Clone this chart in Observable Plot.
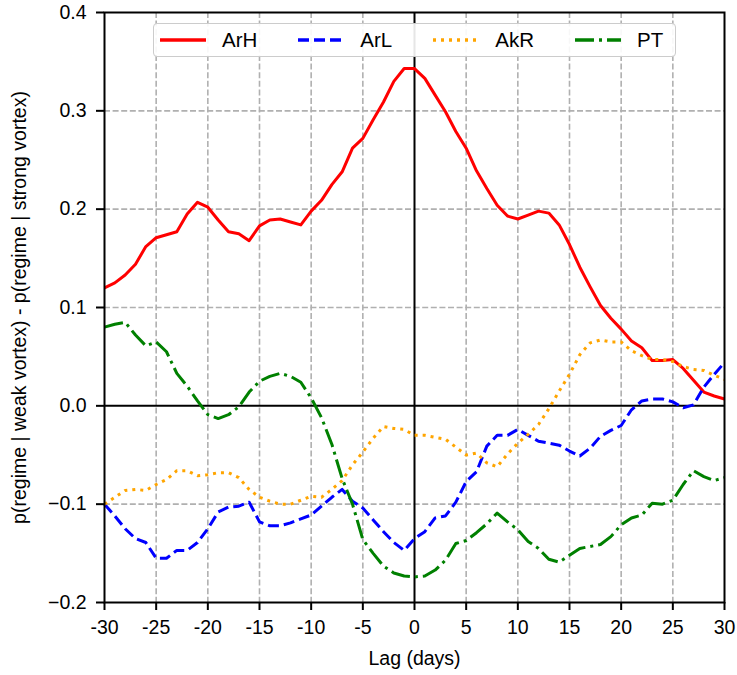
<!DOCTYPE html>
<html>
<head>
<meta charset="utf-8">
<script src="https://cdn.jsdelivr.net/npm/d3@7"></script>
<script src="https://cdn.jsdelivr.net/npm/@observablehq/plot@0.6"></script>
<style>
  html, body { margin: 0; padding: 0; background: white; }
  #wrap { position: relative; width: 737px; height: 675px; font-family: "Liberation Sans", Arial, sans-serif; }
  #legend {
    position: absolute; left: 153px; top: 23px; height: 34px;
    box-sizing: border-box;
    border: 1.3px solid #cccccc; border-radius: 4px; background: rgba(255,255,255,0.9);
    display: flex; align-items: center; padding: 0 12px 0 6px;
    font-size: 20.5px; color: black; white-space: nowrap;
  }
  #legend .item { display: flex; align-items: center; }
  #legend .item + .item { margin-left: 41px; }
  #legend svg { margin-right: 16px; }
  svg.plot g[aria-label="x-axis label"] text, svg.plot g[aria-label="y-axis label"] text { font-size: 20px; }
</style>
</head>
<body>
<div id="wrap"></div>
<script>
// ---- data ----
const lag = [-30,-29,-28,-27,-26,-25,-24,-23,-22,-21,-20,-19,-18,-17,-16,-15,-14,-13,-12,-11,-10,-9,-8,-7,-6,-5,-4,-3,-2,-1,0,
             1,2,3,4,5,6,7,8,9,10,11,12,13,14,15,16,17,18,19,20,21,22,23,24,25,26,27,28,29,30];

const ArH = [0.120,0.125,0.133,0.144,0.162,0.171,0.174,0.177,0.195,0.207,0.202,0.189,0.177,0.175,0.168,0.183,0.189,0.190,0.187,0.184,0.198,0.209,0.225,0.238,0.262,0.272,0.291,0.309,0.330,0.343,0.343,
             0.333,0.316,0.299,0.279,0.262,0.239,0.221,0.204,0.193,0.190,0.194,0.198,0.196,0.184,0.164,0.141,0.121,0.102,0.089,0.078,0.066,0.059,0.046,0.046,0.047,0.038,0.026,0.014,0.010,0.007];

const ArL = [-0.100,-0.112,-0.125,-0.135,-0.139,-0.155,-0.155,-0.147,-0.147,-0.139,-0.125,-0.108,-0.103,-0.102,-0.098,-0.118,-0.122,-0.122,-0.119,-0.115,-0.111,-0.102,-0.093,-0.085,-0.097,-0.104,-0.116,-0.128,-0.139,-0.147,-0.135,
             -0.128,-0.114,-0.112,-0.098,-0.077,-0.067,-0.041,-0.030,-0.030,-0.024,-0.030,-0.036,-0.038,-0.040,-0.046,-0.051,-0.043,-0.031,-0.025,-0.020,-0.004,0.005,0.007,0.007,0.004,-0.002,0.001,0.019,0.032,0.044];

const AkR = [-0.100,-0.093,-0.086,-0.085,-0.086,-0.080,-0.075,-0.066,-0.066,-0.071,-0.070,-0.068,-0.068,-0.073,-0.085,-0.093,-0.097,-0.100,-0.100,-0.096,-0.092,-0.093,-0.085,-0.076,-0.060,-0.047,-0.033,-0.021,-0.023,-0.024,-0.030,
             -0.030,-0.032,-0.034,-0.042,-0.050,-0.048,-0.058,-0.062,-0.049,-0.038,-0.029,-0.019,-0.003,0.015,0.032,0.052,0.064,0.067,0.065,0.065,0.056,0.051,0.047,0.047,0.045,0.040,0.037,0.036,0.031,0.027];

const PT  = [0.080,0.083,0.085,0.072,0.061,0.065,0.055,0.033,0.020,0.005,-0.009,-0.013,-0.009,-0.001,0.014,0.025,0.030,0.033,0.030,0.024,0.008,-0.012,-0.039,-0.074,-0.100,-0.136,-0.150,-0.163,-0.170,-0.173,-0.174,
             -0.173,-0.167,-0.157,-0.140,-0.137,-0.129,-0.120,-0.109,-0.118,-0.126,-0.138,-0.145,-0.156,-0.159,-0.152,-0.145,-0.143,-0.141,-0.133,-0.121,-0.114,-0.111,-0.099,-0.100,-0.096,-0.080,-0.066,-0.072,-0.076,-0.073];

const xTicks = [-30,-25,-20,-15,-10,-5,0,5,10,15,20,25,30];
const yTicks = [-0.2,-0.1,0.0,0.1,0.2,0.3,0.4];
const xGrid = [-25,-20,-15,-10,-5,5,10,15,20,25];
const yGrid = [-0.1,0.1,0.2,0.3];

const seriesNames = ["ArH","ArL","AkR","PT"];
const seriesValues = [ArH, ArL, AkR, PT];
const seriesColors = ["#ff0000","#0000ff","#ffa500","#008000"];
const seriesDash = [null, "11,5", "3,5", "19,5,3,5"];

// ---- tidy table ----
const rows = [];
seriesNames.forEach((name, i) => {
  seriesValues[i].forEach((v, j) => rows.push({series: name, lag: lag[j], value: v}));
});

const gridStyle = {stroke: "#b0b0b0", strokeOpacity: 1, strokeWidth: 1.6, strokeDasharray: "6,2.6"};

const lineMarks = seriesNames.map((name, i) =>
  Plot.lineY(rows.filter(d => d.series === name), {
    x: "lag", y: "value",
    stroke: seriesColors[i], strokeWidth: 3,
    strokeDasharray: seriesDash[i] || undefined,
    strokeLinecap: "butt", strokeLinejoin: "round"
  })
);

const chart = Plot.plot({
  width: 737, height: 675,
  marginLeft: 104, marginRight: 13, marginTop: 12, marginBottom: 73,
  style: {fontFamily: "'Liberation Sans', Arial, sans-serif", fontSize: "19.5px", background: "white", color: "black"},
  x: {domain: [-30, 30]},
  y: {domain: [-0.2, 0.4]},
  marks: [
    Plot.gridX(xGrid, gridStyle),
    Plot.gridY(yGrid, gridStyle),
    Plot.ruleX([0], {stroke: "black", strokeWidth: 2}),
    Plot.ruleY([0], {stroke: "black", strokeWidth: 2}),
    ...lineMarks,
    Plot.frame({stroke: "black", strokeWidth: 2}),
    Plot.axisX(xTicks, {tickSize: 8, tickPadding: 10, strokeWidth: 2, tickFormat: d => String(d),
      label: "Lag (days)", labelAnchor: "center", labelOffset: 62, labelArrow: "none"}),
    Plot.axisY(yTicks, {tickSize: 8, tickPadding: 10, strokeWidth: 2, tickFormat: d3.format(".1f"),
      label: "p(regime | weak vortex) - p(regime | strong vortex)", labelAnchor: "center", labelOffset: 92, labelArrow: "none"})
  ]
});

const wrap = document.getElementById("wrap");
wrap.appendChild(chart);

// ---- legend ----
const legend = document.createElement("div");
legend.id = "legend";
seriesNames.forEach((name, i) => {
  const item = document.createElement("div");
  item.className = "item";
  const ns = "http://www.w3.org/2000/svg";
  const svg = document.createElementNS(ns, "svg");
  svg.setAttribute("width", 46); svg.setAttribute("height", 10);
  const ln = document.createElementNS(ns, "line");
  ln.setAttribute("x1", 0); ln.setAttribute("x2", 46);
  ln.setAttribute("y1", 5); ln.setAttribute("y2", 5);
  ln.setAttribute("stroke", seriesColors[i]);
  ln.setAttribute("stroke-width", 3.5);
  if (seriesDash[i]) ln.setAttribute("stroke-dasharray", seriesDash[i]);
  svg.appendChild(ln);
  const label = document.createElement("span");
  label.textContent = name;
  item.appendChild(svg); item.appendChild(label);
  legend.appendChild(item);
});
wrap.appendChild(legend);
</script>
</body>
</html>
